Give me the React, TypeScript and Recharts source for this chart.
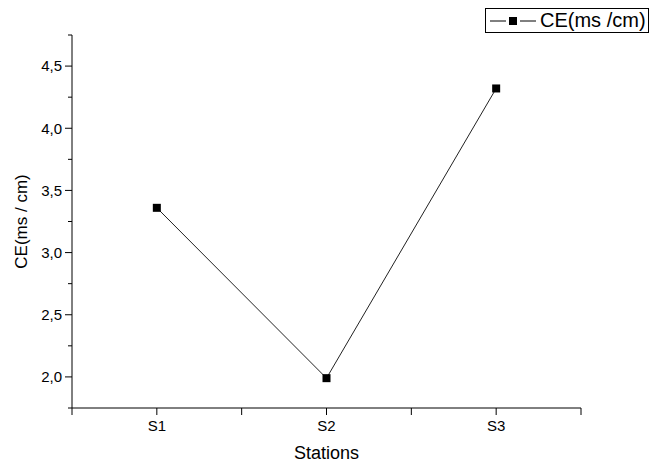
import { Line, LineChart, XAxis, YAxis } from 'recharts';

const stations = ['S1', 'S2', 'S3'];
const ceValues = [3.36, 1.99, 4.32];
const yTicks = [1.75, 2, 2.25, 2.5, 2.75, 3, 3.25, 3.5, 3.75, 4, 4.25, 4.5, 4.75];
const xTicks = [0.5, 1, 1.5, 2, 2.5, 3, 3.5];

const data = stations.map((s, i) => ({ pos: i + 1, station: s, ce: ceValues[i] }));

const FONT = '"Liberation Sans", Arial, sans-serif';

// left axis tick: long line + label on half units, short line on quarters
function YTick(props: any) {
  const { x, y, payload } = props;
  const v = payload.value as number;
  const major = Math.abs(v * 2 - Math.round(v * 2)) < 1e-6;
  const axisX = x + 9;
  return (
    <g>
      <line x1={axisX} x2={axisX - (major ? 7 : 4)} y1={y} y2={y} stroke="#000" strokeWidth={1} />
      {major && (
        <text x={axisX - 10} y={y} dy="0.35em" textAnchor="end" fontSize={15} fontFamily={FONT} fill="#000">
          {v.toFixed(1).replace('.', ',')}
        </text>
      )}
    </g>
  );
}

function Square(props: any) {
  const { cx, cy } = props;
  if (cx == null || cy == null) return null;
  return <rect x={cx - 4} y={cy - 4} width={8} height={8} fill="#000" />;
}

export default function App() {
  return (
    <div style={{ position: 'absolute', left: 0, top: 0, width: 651, height: 469, background: '#fff', fontFamily: FONT }}>
      <LineChart width={651} height={469} data={data} margin={{ top: 35, right: 70, bottom: 0, left: 0 }}>
        <XAxis
          type="number"
          dataKey="pos"
          domain={[0.5, 3.5]}
          ticks={xTicks}
          height={61}
          tickSize={7}
          tickMargin={5}
          stroke="#000"
          tick={{ fill: '#000', fontSize: 15, fontFamily: FONT }}
          tickFormatter={(v: number) => (Number.isInteger(v) ? stations[v - 1] : '')}
          label={{
            content: (p: any) => {
              const vb = p.viewBox;
              return (
                <text x={vb.x + vb.width / 2} y={453} dy="0.35em" textAnchor="middle" fontSize={18} fontFamily={FONT} fill="#000">
                  Stations
                </text>
              );
            },
          }}
        />
        <YAxis
          type="number"
          domain={[1.75, 4.75]}
          ticks={yTicks}
          allowDataOverflow
          width={72}
          tickLine={false}
          tickSize={7}
          tickMargin={2}
          stroke="#000"
          tick={<YTick />}
          label={{
            content: (p: any) => {
              const vb = p.viewBox;
              const cy = vb.y + vb.height / 2;
              return (
                <text x={21} y={cy} dy="0.35em" transform={`rotate(-90 21 ${cy})`} textAnchor="middle" fontSize={17} fontFamily={FONT} fill="#000">
                  CE(ms / cm)
                </text>
              );
            },
          }}
        />
        <Line
          type="linear"
          dataKey="ce"
          stroke="#222"
          strokeWidth={1}
          dot={<Square />}
          activeDot={false}
          isAnimationActive={false}
        />
      </LineChart>
      <div
        style={{
          position: 'absolute',
          left: 485,
          top: 8,
          width: 164,
          height: 25,
          border: '1px solid #000',
          boxSizing: 'border-box',
          display: 'flex',
          alignItems: 'center',
          fontSize: 20,
          color: '#000',
          whiteSpace: 'nowrap',
        }}
      >
        <svg width={54} height={22} style={{ flex: 'none' }}>
          <line x1={4} x2={20} y1={11} y2={11} stroke="#000" strokeWidth={1} />
          <rect x={23} y={7} width={8} height={8} fill="#000" />
          <line x1={34} x2={50} y1={11} y2={11} stroke="#000" strokeWidth={1} />
        </svg>
        <span>CE(ms /cm)</span>
      </div>
    </div>
  );
}
